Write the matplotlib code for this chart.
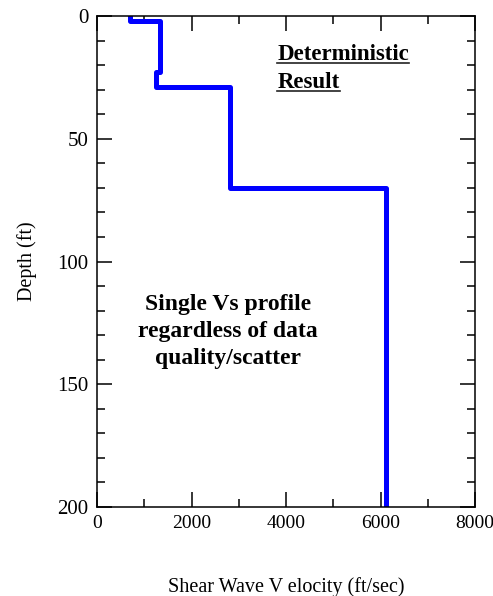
import numpy as np
import matplotlib
matplotlib.use("Agg")
import matplotlib.pyplot as plt
from matplotlib.ticker import MultipleLocator

# Data
vs = [700, 1340, 1250, 2820, 6120]          # ft/sec
layer_top = [0, 2, 23, 29, 70]               # ft
layer_bottom = [2, 23, 29, 70, 200]          # ft
x_ticks = [0, 2000, 4000, 6000, 8000]
y_ticks = [0, 50, 100, 150, 200]

plt.rcParams['font.family'] = ['Liberation Serif', 'DejaVu Serif']

fig = plt.figure(figsize=(4.93, 5.96), dpi=100)
ax = fig.add_axes([0.1968, 0.1493, 0.7667, 0.8238])

xs = np.repeat(vs, 2)
ys = np.ravel(np.column_stack([layer_top, layer_bottom]))
ax.plot(xs, ys, color='#0000ff', lw=3.6, solid_joinstyle='round')

ax.set_xlim(0, 8000)
ax.set_ylim(200, 0)
ax.set_xticks(x_ticks)
ax.set_yticks(y_ticks)
ax.xaxis.set_minor_locator(MultipleLocator(1000))
ax.yaxis.set_minor_locator(MultipleLocator(10))
ax.tick_params(which='both', direction='in', top=True, right=True, width=1.1)
ax.tick_params(axis='y', labelsize=15)
ax.tick_params(axis='x', labelsize=14)
ax.tick_params(which='major', length=11, pad=6)
ax.tick_params(which='minor', length=5.8)
for s in ax.spines.values():
    s.set_linewidth(1.1)

ax.set_xlabel('Shear Wave V elocity (ft/sec)', fontsize=14.5, va='top')
ax.xaxis.set_label_coords(0.5, -0.142)
ax.set_ylabel('Depth (ft)', fontsize=14.5)
ax.yaxis.set_label_coords(-0.160, 0.5)

t1 = ax.text(0.477, 0.910, 'Deterministic', transform=ax.transAxes, fontsize=16.5,
             fontweight='bold', ha='left', va='baseline')
t2 = ax.text(0.477, 0.853, 'Result', transform=ax.transAxes, fontsize=16.5,
             fontweight='bold', ha='left', va='baseline')
for line, yy in zip(['Single Vs profile', 'regardless of data', 'quality/scatter'],
                    [0.401, 0.346, 0.291]):
    ax.text(0.346, yy, line, transform=ax.transAxes, fontsize=17, fontweight='bold',
            ha='center', va='baseline')

fig.canvas.draw()
r = fig.canvas.get_renderer()
inv = fig.transFigure.inverted()
for t in (t1, t2):
    bb = t.get_window_extent(r)
    xb0, yb = ax.transAxes.transform(t.get_position())
    (x0, y0), (x1, y1) = inv.transform([(bb.x0, yb - 3), (bb.x1, yb - 3)])
    fig.add_artist(plt.Line2D([x0, x1], [y0, y1], transform=fig.transFigure,
                              color='#222222', lw=1.2))

fig.savefig('out.png', dpi=100)
